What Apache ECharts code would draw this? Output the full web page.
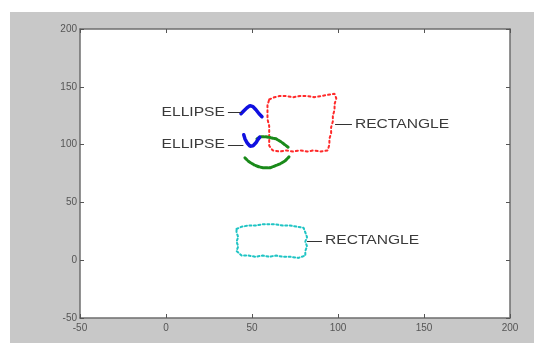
<!DOCTYPE html>
<html>
<head>
<meta charset="utf-8">
<script src="https://cdn.jsdelivr.net/npm/echarts@6/dist/echarts.min.js"></script>
<style>html,body{margin:0;padding:0;background:#fff;}#c{width:534px;height:343px;}</style>
</head>
<body>
<div id="c"></div>
<script>
// Axis ticks
var xTicks = [-50, 0, 50, 100, 150, 200];
var yTicks = [-50, 0, 50, 100, 150, 200];

// Blue ellipse fragments
var blueTop = [[43.6,126.7],[45.3,129.3],[47.1,131.9],[48.8,133.7],[50.6,132.8],[52.3,130.2],[54.1,126.7],[55.8,124.1]];
var blueBottom = [[45.2,108.5],[45.9,105.0],[47.1,101.6],[48.8,98.6],[50.6,99.0],[52.3,101.6],[53.5,104.5],[54.5,106.5]];

// Green ellipse fragments
var greenUpper = [[52.9,105.0],[55.2,106.8],[58.1,106.8],[61.0,105.9],[64.0,105.0],[66.9,102.4],[69.2,99.8],[71.5,97.2]];
var greenLower = [[45.9,88.5],[48.3,85.1],[51.2,82.5],[54.1,80.7],[57.0,79.9],[60.5,79.9],[63.4,81.6],[66.3,83.3],[69.2,85.9],[71.5,89.4]];

// Red rectangle outline points
var redRect = [[60,139],[63,141],[66,142],[70,142],[74,141],[78,142],[82,142],[86,141],[90,142],[94,143],[98,144],
  [99,140],[98,135],[98,130],[97,125],[97,120],[96,115],[96,110],[95,105],[95,100],[94,95],
  [90,94],[86,95],[82,94],[78,95],[74,94],[70,95],[66,94],[62,95],
  [60,99],[60,104],[60,110],[60,116],[59,122],[59,128],[59,134],[60,139]];

// Cyan rectangle outline points
var cyanRect = [[41,27],[44,29],[48,30],[52,30],[56,31],[60,31],[64,31],[68,30],[72,30],[76,29],[80,28],
  [81,24],[82,20],[81,16],[82,12],[81,8],[81,4],
  [77,2],[72,3],[68,3],[64,4],[60,3],[56,4],[52,3],[48,4],[44,4],
  [41,8],[42,12],[41,16],[42,20],[41,24],[41,27]];

// Annotations: text, line start, line end, side of text
var annTexts = ['ELLIPSE', 'ELLIPSE', 'RECTANGLE', 'RECTANGLE'];
var annLineFrom = [[36,127.6],[36,99.8],[108.1,117.2],[90.7,16.5]];
var annLineTo = [[44,127.6],[45,99.8],[98.3,117.2],[82,16.5]];
var annSide = ['left', 'left', 'right', 'right'];

var chart = echarts.init(document.getElementById('c'), null, {renderer: 'canvas'});

function curve(data, color, width, dash) {
  return {
    type: 'line', data: data, showSymbol: false, symbol: 'none', silent: true,
    lineStyle: {color: color, width: width, type: dash, cap: 'round'},
    animation: false, z: 3
  };
}

var axisCommon = {
  min: -50, max: 200, interval: 50,
  axisLine: {show: true, onZero: false, lineStyle: {color: '#6e6e6e', width: 1.5}},
  axisTick: {show: true, inside: true, length: 4, lineStyle: {color: '#555'}},
  splitLine: {show: false}
};

var annLines = [];
for (var i = 0; i < annTexts.length; i++) {
  annLines.push([{coord: annLineFrom[i]}, {coord: annLineTo[i]}]);
}

var option = {
  backgroundColor: '#ffffff',
  animation: false,
  grid: {left: 80, top: 29, right: 24, bottom: 25, show: true, backgroundColor: '#ffffff', borderWidth: 0},
  xAxis: [
    Object.assign({}, axisCommon, {type: 'value', position: 'bottom',
      axisLabel: {show: true, color: '#555', fontSize: 10, fontFamily: 'Liberation Sans', margin: 5}}),
    Object.assign({}, axisCommon, {type: 'value', position: 'top', axisLabel: {show: false}})
  ],
  yAxis: [
    Object.assign({}, axisCommon, {type: 'value', position: 'left',
      axisLabel: {show: true, color: '#555', fontSize: 10, fontFamily: 'Liberation Sans', margin: 3}}),
    Object.assign({}, axisCommon, {type: 'value', position: 'right', axisLabel: {show: false}})
  ],
  series: [
    curve(redRect, '#ff2a2a', 2, [2, 3]),
    curve(cyanRect, '#1fc4c4', 2, [2, 2.5]),
    curve(greenUpper, '#1a8a1a', 3, [3, 1.5]),
    curve(greenLower, '#1a8a1a', 3, [3, 1.5]),
    curve(blueTop, '#1010e0', 3.5, 'solid'),
    curve(blueBottom, '#1010e0', 3.5, 'solid'),
    {
      type: 'line', data: [], silent: true,
      markLine: {
        symbol: ['none', 'none'], silent: true, animation: false,
        lineStyle: {color: '#333', width: 1, type: 'solid'},
        label: {show: false},
        data: annLines
      }
    }
  ]
};
chart.setOption(option);

// Place annotation texts (horizontally stretched like the reference) at data coordinates
var gfx = [{
  type: 'rect', z: -10, silent: true,
  shape: {x: 10, y: 12, width: 524, height: 331},
  style: {fill: '#c8c8c8'}
}, {
  type: 'rect', z: -9, silent: true,
  shape: {x: 80, y: 29, width: 430, height: 289},
  style: {fill: '#ffffff'}
}];
for (var j = 0; j < annTexts.length; j++) {
  var p = chart.convertToPixel({xAxisIndex: 0, yAxisIndex: 0}, annLineFrom[j]);
  var left = annSide[j] === 'left';
  gfx.push({
    type: 'text', silent: true, z: 100,
    x: left ? p[0] - 3 : p[0] + 3, y: p[1],
    scaleX: 1.3, scaleY: 1,
    style: {
      text: annTexts[j], fill: '#3a3a3a', font: '12px "Liberation Sans", Arial, sans-serif',
      align: left ? 'right' : 'left', verticalAlign: 'middle'
    }
  });
}
chart.setOption({graphic: gfx});
</script>
</body>
</html>
